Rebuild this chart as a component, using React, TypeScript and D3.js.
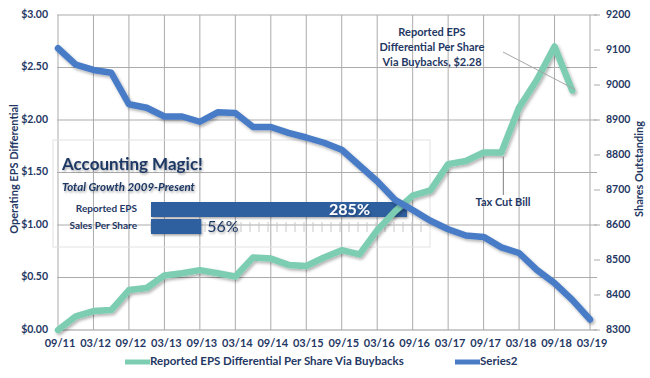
import React from "react";
import * as d3 from "d3";

const quarters = [
  "09/11","12/11","03/12","06/12","09/12","12/12","03/13","06/13","09/13","12/13",
  "03/14","06/14","09/14","12/14","03/15","06/15","09/15","12/15","03/16","06/16",
  "09/16","12/16","03/17","06/17","09/17","12/17","03/18","06/18","09/18","12/18","03/19",
];
const epsDifferential = [
  0.0, 0.13, 0.18, 0.19, 0.38, 0.4, 0.52, 0.54, 0.57, 0.54,
  0.51, 0.69, 0.68, 0.62, 0.61, 0.69, 0.76, 0.72, 0.95, 1.13,
  1.28, 1.33, 1.58, 1.61, 1.69, 1.69, 2.12, 2.38, 2.7, 2.28,
];
const sharesOutstanding = [
  9105, 9058, 9043, 9035, 8945, 8935, 8910, 8910, 8895, 8922,
  8920, 8880, 8880, 8863, 8850, 8835, 8815, 8770, 8725, 8672,
  8643, 8612, 8588, 8570, 8566, 8536, 8520, 8472, 8434, 8386, 8330,
];
const leftTicks = [0, 0.5, 1, 1.5, 2, 2.5, 3];
const rightTicks = [8300, 8400, 8500, 8600, 8700, 8800, 8900, 9000, 9100, 9200];
const growthLabels = ["Reported EPS", "Sales Per Share"];
const growthValues = [285, 56];
const seriesNames = ["Reported EPS Differential Per Share Via Buybacks", "Series2"];

const NAVY = "#1F3864";
const GREEN = "#7DCDB2";
const BLUE = "#4A7CC6";
const BAR = "#2F5E9F";
const GRID = "#ABABAB";
const FONT = "Lato, 'Open Sans', sans-serif";

export default function App() {
  const x = d3.scalePoint<string>().domain(quarters).range([58, 590]);
  const yL = d3.scaleLinear().domain([0, 3]).range([330, 15]);
  const yR = d3.scaleLinear().domain([8300, 9200]).range([330, 15]);
  const greenLine = d3
    .line<number>()
    .x((_, i) => x(quarters[i]) as number)
    .y((d) => yL(d));
  const blueLine = d3
    .line<number>()
    .x((_, i) => x(quarters[i]) as number)
    .y((d) => yR(d));
  const labeled = quarters.filter((_, i) => i % 2 === 0);
  const bx = d3.scaleLinear().domain([0, 285]).range([151, 407]);
  const by = d3.scaleBand().domain(growthLabels).range([202, 234]).paddingInner(0.12);
  const minorTicks = d3.range(151, 428, 9);

  const lastG = epsDifferential.length - 1;
  const gx = (i: number) => x(quarters[i]) as number;

  return (
    <svg
      width={650}
      height={378}
      style={{ position: "absolute", left: 0, top: 0, background: "#fff" }}
      fontFamily={FONT}
    >
      <defs>
        <filter id="sh" x="-10%" y="-10%" width="120%" height="130%">
          <feDropShadow dx="1.5" dy="2" stdDeviation="1.5" floodColor="#000" floodOpacity="0.3" />
        </filter>
        <filter id="tsh" x="-10%" y="-20%" width="120%" height="150%">
          <feDropShadow dx="1" dy="1.5" stdDeviation="1" floodColor="#000" floodOpacity="0.35" />
        </filter>
      </defs>

      {leftTicks.map((t) => (
        <line key={"h" + t} x1={57} x2={597} y1={yL(t)} y2={yL(t)} stroke={t === 0 ? "#999" : GRID} strokeWidth={1} />
      ))}
      {labeled.map((q) => (
        <line key={"v" + q} x1={x(q)} x2={x(q)} y1={15} y2={330} stroke={GRID} strokeWidth={1} />
      ))}
      {rightTicks.map((t) => (
        <line key={"rt" + t} x1={594} x2={600} y1={yR(t)} y2={yR(t)} stroke={GRID} strokeWidth={1} />
      ))}

      {leftTicks.map((t) => (
        <text key={"lt" + t} x={48} y={yL(t)} textAnchor="end" dominantBaseline="middle" fontSize={10.5} fontWeight="bold" fill={NAVY}>
          {"$" + t.toFixed(2)}
        </text>
      ))}
      {rightTicks.map((t) => (
        <text key={"rl" + t} x={606} y={yR(t)} textAnchor="start" dominantBaseline="middle" fontSize={10.5} fontWeight="bold" fill={NAVY}>
          {t}
        </text>
      ))}
      {labeled.map((q) => (
        <text key={"xl" + q} x={x(q) as number + 2} y={344} textAnchor="middle" dominantBaseline="middle" fontSize={11} fontWeight="bold" fill={NAVY}>
          {q}
        </text>
      ))}

      <text transform="translate(15,169) rotate(-90)" textAnchor="middle" dominantBaseline="middle" fontSize={11} fontWeight="bold" fill={NAVY}>
        Operating EPS Differential
      </text>
      <text transform="translate(640,169) rotate(-90)" textAnchor="middle" dominantBaseline="middle" fontSize={11} fontWeight="bold" fill={NAVY}>
        Shares Outstanding
      </text>

      <rect x={53} y={140} width={377} height={107} fill="none" stroke="#E2E2E2" strokeWidth={1} />
      <text x={62} y={170} fontSize={17} fontWeight="bold" fill={NAVY} filter="url(#tsh)">
        Accounting Magic!
      </text>
      <text x={62} y={191} fontSize={11.5} fontWeight="bold" fontStyle="italic" fill={NAVY} filter="url(#tsh)">
        Total Growth 2009-Present
      </text>
      {minorTicks.map((t) => (
        <line key={"mt" + t} x1={t} x2={t} y1={222} y2={232} stroke="#C8C8C8" strokeWidth={1} />
      ))}
      {growthLabels.map((g, i) => (
        <g key={g}>
          <text x={137} y={(by(g) as number) + by.bandwidth() / 2} textAnchor="end" dominantBaseline="middle" fontSize={10} fontWeight="bold" fill={NAVY}>
            {g}
          </text>
          <rect x={bx(0)} y={by(g)} width={bx(growthValues[i]) - bx(0)} height={by.bandwidth()} fill={BAR} filter="url(#tsh)" />
          {i === 0 ? (
            <text x={bx(growthValues[i]) - 37} y={(by(g) as number) + by.bandwidth() / 2 + 1} textAnchor="end" dominantBaseline="middle" fontSize={16} fontWeight="bold" fill="#fff" filter="url(#tsh)">
              {growthValues[i] + "%"}
            </text>
          ) : (
            <text x={bx(growthValues[i]) + 6} y={(by(g) as number) + by.bandwidth() / 2 + 1} textAnchor="start" dominantBaseline="middle" fontSize={16} fill={NAVY} filter="url(#tsh)">
              {growthValues[i] + "%"}
            </text>
          )}
        </g>
      ))}

      <path d={greenLine(epsDifferential) as string} fill="none" stroke={GREEN} strokeWidth={6.5} strokeLinejoin="round" strokeLinecap="round" filter="url(#sh)" />
      <path d={blueLine(sharesOutstanding) as string} fill="none" stroke={BLUE} strokeWidth={6.5} strokeLinejoin="round" strokeLinecap="round" filter="url(#sh)" />

      <line x1={503} y1={52} x2={gx(lastG) + 3} y2={yL(epsDifferential[lastG]) - 1} stroke="#A6A6A6" strokeWidth={1} />
      <text x={432} y={33} textAnchor="middle" dominantBaseline="middle" fontSize={11} fontWeight="bold" fill={NAVY}>
        <tspan x={432} dy={0}>Reported EPS</tspan>
        <tspan x={432} dy={15}>Differential Per Share</tspan>
        <tspan x={432} dy={15}>Via Buybacks,  $2.28</tspan>
      </text>
      <line x1={gx(25) + 2} y1={yL(epsDifferential[25]) + 4} x2={gx(25) + 2} y2={195} stroke="#7F7F7F" strokeWidth={1} />
      <text x={503} y={203} textAnchor="middle" dominantBaseline="middle" fontSize={11} fontWeight="bold" fill={NAVY}>
        Tax Cut Bill
      </text>

      <line x1={125} x2={150} y1={362} y2={362} stroke={GREEN} strokeWidth={5} />
      <text x={150} y={362} dominantBaseline="middle" fontSize={11.5} fontWeight="bold" fill={NAVY}>
        {seriesNames[0]}
      </text>
      <line x1={455} x2={480} y1={362} y2={362} stroke={BLUE} strokeWidth={5} />
      <text x={480} y={362} dominantBaseline="middle" fontSize={11.5} fontWeight="bold" fill={NAVY}>
        {seriesNames[1]}
      </text>
    </svg>
  );
}
